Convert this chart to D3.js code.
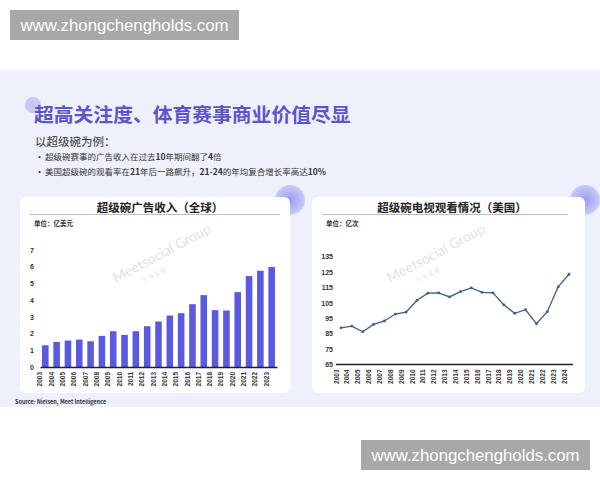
<!DOCTYPE html>
<html>
<head>
<meta charset="utf-8">
<script src="https://cdn.jsdelivr.net/npm/d3@7"></script>
<style>
  body { margin: 0; background: #fff; }
  svg { display: block; font-family: "Noto Sans CJK SC", "Noto Sans", sans-serif; }
</style>
</head>
<body>
<script>
// data
var adYears = ["2003","2004","2005","2006","2007","2008","2009","2010","2011","2012","2013","2014","2015","2016","2017","2018","2019","2020","2021","2022","2023"];
var adRevenue = [1.3, 1.5, 1.58, 1.64, 1.54, 1.86, 2.14, 1.92, 2.14, 2.44, 2.72, 3.08, 3.22, 3.76, 4.3, 3.4, 3.38, 4.48, 5.44, 5.76, 5.98];
var adTicks = [0, 1, 2, 3, 4, 5, 6, 7];

var tvYears = ["2003","2004","2005","2006","2007","2008","2009","2010","2011","2012","2013","2014","2015","2016","2017","2018","2019","2020","2021","2022","2023","2024"];
var tvViewers = [88.8, 89.9, 86.2, 91.0, 93.2, 97.7, 99.0, 106.6, 111.2, 111.4, 108.8, 112.2, 114.6, 111.8, 111.4, 103.6, 98.2, 100.5, 91.4, 99.2, 115.3, 123.5];
var tvTicks = [65, 75, 85, 95, 105, 115, 125, 135];

// bullet text split into [normal, bold] runs
var bullets = [
    [["超级碗赛事的广告收入在过去", 0], ["10", 1], ["年期间翻了", 0], ["4", 1], ["倍", 0]],
    [["美国超级碗的观看率在", 0], ["21", 1], ["年后一路飙升，", 0], ["21-24", 1], ["的年均复合增长率高达", 0], ["10%", 1]]
];

var svg = d3.select("body").append("svg")
    .attr("width", 600)
    .attr("height", 480);

var defs = svg.append("defs");
var grad = defs.append("radialGradient").attr("id", "blob");
grad.append("stop").attr("offset", "0%").attr("stop-color", "#9a9cf0");
grad.append("stop").attr("offset", "100%").attr("stop-color", "#c9cbf6");

// slide background
svg.append("rect")
    .attr("x", 0).attr("y", 70).attr("width", 600).attr("height", 337)
    .attr("fill", "#eef0fb");

// decoration circle near title
svg.append("circle").attr("cx", 33).attr("cy", 105).attr("r", 8).attr("fill", "#c8c9f2");

svg.append("text")
    .attr("x", 34).attr("y", 122)
    .attr("font-size", 19.8).attr("font-weight", "bold")
    .attr("fill", "#5b55c9")
    .text("超高关注度、体育赛事商业价值尽显");

svg.append("text")
    .attr("x", 35).attr("y", 146)
    .attr("font-size", 11.5).attr("fill", "#333")
    .text("以超级碗为例：");

bullets.forEach(function(b, i) {
    var yy = 160 + i * 15;
    svg.append("text").attr("x", 35).attr("y", yy).attr("font-size", 9).attr("fill", "#333").text("•");
    var t = svg.append("text").attr("x", 45).attr("y", yy).attr("font-size", 8.5).attr("fill", "#333");
    b.forEach(function(run) {
        t.append("tspan").attr("font-weight", run[1] ? "bold" : "normal").text(run[0]);
    });
});

// panels
[[20, 290], [312, 585]].forEach(function(p) {
    svg.append("circle").attr("cx", p[1]).attr("cy", 200).attr("r", 15).attr("fill", "url(#blob)");
    svg.append("rect")
        .attr("x", p[0]).attr("y", 197).attr("width", p[1] - p[0]).attr("height", 196)
        .attr("rx", 6).attr("fill", "#fff");
});

function panelHead(cx, x1, x2, title, unit) {
    svg.append("text")
        .attr("x", cx).attr("y", 212)
        .attr("text-anchor", "middle")
        .attr("font-size", 11.5).attr("font-weight", "bold").attr("fill", "#222")
        .text(title);
    svg.append("line")
        .attr("x1", x1).attr("x2", x2).attr("y1", 214.5).attr("y2", 214.5)
        .attr("stroke", "#bbb").attr("stroke-width", 1);
    svg.append("text")
        .attr("x", x1 + 4).attr("y", 226)
        .attr("font-size", 6.5).attr("font-weight", "bold").attr("fill", "#333")
        .text(unit);
}

function watermark(x, y) {
    var g = svg.append("g").attr("transform", "translate(" + x + "," + y + ") rotate(-28)")
        .attr("fill", "#e2e2e2");
    g.append("text").attr("font-size", 14).attr("font-family", "Lato, sans-serif").text("Meetsocial Group");
    g.append("text").attr("x", 24).attr("y", 13).attr("font-size", 5.5).text("飞  书  深  诺");
}

// ---- left chart: bars ----
panelHead(160, 30, 280, "超级碗广告收入（全球）", "单位：亿美元");
watermark(116, 283);

var xA = d3.scaleBand().domain(adYears).range([40, 277]).paddingInner(0.42).paddingOuter(0.18);
var yA = d3.scaleLinear().domain([0, 7]).range([367, 250]);

svg.append("g").selectAll("rect")
    .data(adRevenue)
    .enter().append("rect")
        .attr("x", function(d, i) { return xA(adYears[i]); })
        .attr("width", xA.bandwidth())
        .attr("y", function(d) { return yA(d); })
        .attr("height", function(d) { return yA(0) - yA(d); })
        .attr("fill", "#5a5ae0");

var yAxisA = svg.append("g")
    .attr("transform", "translate(34,0)")
    .call(d3.axisLeft(yA).tickValues(adTicks).tickFormat(d3.format("d")).tickSize(0).tickPadding(0));
yAxisA.select(".domain").remove();
yAxisA.selectAll("text").attr("font-size", 7).attr("fill", "#333").attr("font-weight", "bold");

var xAxisA = svg.append("g")
    .attr("transform", "translate(0,367)")
    .call(d3.axisBottom(xA).tickSize(0).tickPadding(3));
xAxisA.select(".domain").attr("stroke", "#222").attr("stroke-width", 1.5);
xAxisA.selectAll("text")
    .attr("font-size", 6.5).attr("font-weight", "bold").attr("fill", "#333")
    .attr("transform", "rotate(-90)")
    .attr("text-anchor", "end")
    .attr("dx", "-0.3em").attr("dy", "-0.45em")
    .attr("y", 0).attr("x", -3);

svg.append("text")
    .attr("x", 15).attr("y", 404)
    .attr("font-size", 5.5).attr("font-weight", "bold").attr("fill", "#333")
    .text("Source: Nielsen, Meet Intelligence");

// ---- right chart: line ----
panelHead(452, 322, 568, "超级碗电视观看情况（美国）", "单位：亿次");
watermark(390, 283);

var xB = d3.scalePoint().domain(tvYears).range([341, 569]);
var yB = d3.scaleLinear().domain([65, 135]).range([364.5, 256.5]);

var yAxisB = svg.append("g")
    .attr("transform", "translate(333,0)")
    .call(d3.axisLeft(yB).tickValues(tvTicks).tickSize(0).tickPadding(0));
yAxisB.select(".domain").remove();
yAxisB.selectAll("text").attr("font-size", 7).attr("fill", "#333").attr("font-weight", "bold");

var xAxisB = svg.append("g")
    .attr("transform", "translate(0,364.5)")
    .call(d3.axisBottom(xB).tickSize(0).tickPadding(3));
xAxisB.select(".domain").attr("d", "M336,0H573").attr("stroke", "#222").attr("stroke-width", 1.5);
xAxisB.selectAll("text")
    .attr("font-size", 6.5).attr("font-weight", "bold").attr("fill", "#333")
    .attr("transform", "rotate(-90)")
    .attr("text-anchor", "end")
    .attr("dx", "-0.3em").attr("dy", "-0.45em")
    .attr("y", 0).attr("x", -3);

var line = d3.line()
    .x(function(d, i) { return xB(tvYears[i]); })
    .y(function(d) { return yB(d); });

svg.append("path")
    .attr("d", line(tvViewers))
    .attr("fill", "none")
    .attr("stroke", "#3f5f86")
    .attr("stroke-width", 1.3);

svg.append("g").selectAll("circle")
    .data(tvViewers)
    .enter().append("circle")
        .attr("cx", function(d, i) { return xB(tvYears[i]); })
        .attr("cy", function(d) { return yB(d); })
        .attr("r", 1.4)
        .attr("fill", "#3f5f86");

// site labels
function siteBox(x, y) {
    svg.append("rect").attr("x", x).attr("y", y).attr("width", 229).attr("height", 30).attr("fill", "#a8a8a8");
    svg.append("text")
        .attr("x", x + 114.5).attr("y", y + 20.5)
        .attr("text-anchor", "middle")
        .attr("font-size", 16.8).attr("font-family", "Liberation Sans, Arial, sans-serif")
        .attr("fill", "#fff")
        .text("www.zhongchengholds.com");
}
siteBox(10, 10);
siteBox(361, 440);
</script>
</body>
</html>
